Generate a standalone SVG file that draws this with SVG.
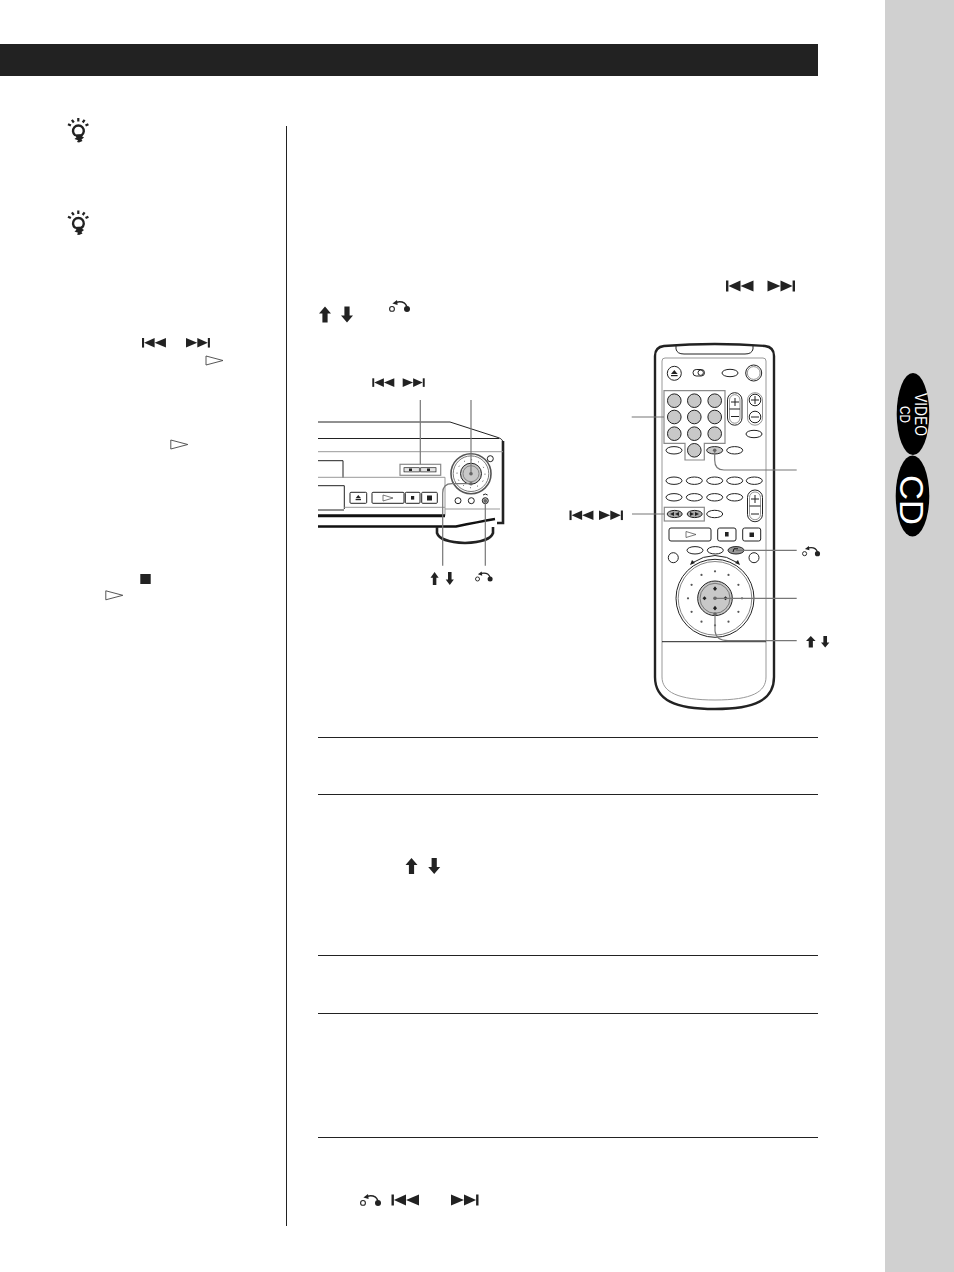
<svg xmlns="http://www.w3.org/2000/svg" width="954" height="1272" viewBox="0 0 954 1272">
<style>
.rule{stroke:#222;stroke-width:1;fill:none}
.k{fill:none;stroke:#222;stroke-width:1}
.g{fill:none;stroke:#999;stroke-width:1}
.hl{fill:none;stroke:#8a8a8a;stroke-width:1.2}
.lead{fill:none;stroke:#777;stroke-width:1.2}
.btn{fill:#fff;stroke:#222;stroke-width:1}
.gb{fill:#c8c8c8;stroke:#222;stroke-width:1}
.gd{fill:#666}
.dot{fill:#555}
.ink{fill:#222}
.lab{font-family:"Liberation Sans",Arial,sans-serif;fill:#fff;font-weight:400}
</style>
<defs>
<g id="prev"><rect x="0" y="0" width="2.4" height="11" class="ink"/><polygon points="2.4,5.5 14.5,0 14.5,11" class="ink"/><polygon points="14.5,5.5 27.5,0 27.5,11" class="ink"/></g>
<g id="next"><rect x="25.1" y="0" width="2.4" height="11" class="ink"/><polygon points="25.1,5.5 13,0 13,11" class="ink"/><polygon points="13,5.5 0,0 0,11" class="ink"/></g>
<polygon id="up" points="6,0 12,7 8.6,7 8.6,16 3.4,16 3.4,7 0,7" class="ink"/>
<polygon id="down" points="6,16 12,9 8.6,9 8.6,0 3.4,0 3.4,9 0,9" class="ink"/>
<g id="ret"><circle cx="3" cy="8.9" r="2.4" fill="#fff" stroke="#222" stroke-width="1.1"/><circle cx="18" cy="8.9" r="3" class="ink"/><path d="M17.8 6.5Q15.5 0.6 7.5 2.2" fill="none" stroke="#222" stroke-width="1.5"/><polygon points="3.4,3.4 8,0 8.6,5" class="ink"/></g>
<polygon id="play" points="0.5,0.5 17.5,5 0.5,9.5" fill="#fff" stroke="#444" stroke-width="0.9"/>
<g id="bulb"><path d="M7.2 17.2A5.4 5.4 0 1 1 13.6 17.2" fill="none" stroke="#222" stroke-width="2.4"/><polygon points="5.5,16.5 15,16 14,18.2 16,19.5 13.5,21.5 14.5,23 11,24.5 9,24 10,22.3 6.5,21 8.5,19.2" class="ink"/><g stroke="#222" stroke-width="2.2"><path d="M10.3 0V3.4M3.9 1.8L5.8 4.5M16.6 1.8L14.7 4.5M0 6.2L2.9 7.6M20.4 6.2L17.5 7.6"/></g></g>
<ellipse id="ov" rx="8" ry="3.7" class="btn"/>
<circle id="num" r="6.8" class="gb"/>
<circle id="dd" r="1.1" class="dot"/>
</defs>
<rect width="954" height="1272" fill="#fff"/>
<rect id="sidebar" x="885" y="0" width="69" height="1272" fill="#d0d0d0"/>
<rect id="header" x="0" y="44" width="818" height="32" fill="#222"/>
<line class="rule" x1="286.5" y1="126" x2="286.5" y2="1226"/>
<g id="rules">
<line class="rule" x1="318" y1="737.5" x2="818" y2="737.5"/>
<line class="rule" x1="318" y1="794.5" x2="818" y2="794.5"/>
<line class="rule" x1="318" y1="955.5" x2="818" y2="955.5"/>
<line class="rule" x1="318" y1="1013.5" x2="818" y2="1013.5"/>
<line class="rule" x1="318" y1="1137.5" x2="818" y2="1137.5"/>
</g>
<g id="tabs">
<g id="tab-video-cd"><ellipse cx="913" cy="414" rx="16.3" ry="41" fill="#000"/>
<text class="lab" font-size="16" transform="translate(915 393) rotate(90)" textLength="43" lengthAdjust="spacingAndGlyphs">VIDEO</text>
<text class="lab" font-size="15" transform="translate(899.5 406) rotate(90)" textLength="17" lengthAdjust="spacingAndGlyphs">CD</text></g>
<g id="tab-cd"><ellipse cx="912.5" cy="496" rx="16.8" ry="40.6" fill="#000"/>
<text class="lab" font-size="33" transform="translate(900 475) rotate(90)" textLength="50" lengthAdjust="spacingAndGlyphs">CD</text></g>
</g>
<g id="inline-icons">
<use href="#bulb" x="68" y="118"/><use href="#bulb" x="68" y="210.5"/>
<use href="#prev" x="726" y="280.5"/><use href="#next" x="767.5" y="280.5"/>
<use href="#up" x="319" y="306.5"/><use href="#down" x="341" y="306.5"/>
<use href="#ret" x="389" y="300"/>
<use href="#prev" transform="translate(142 338) scale(.87 .87)"/><use href="#next" transform="translate(186 338) scale(.87 .87)"/>
<use href="#play" x="205.5" y="355.5"/><use href="#play" x="170.3" y="439.5"/>
<rect x="140.3" y="574" width="10.4" height="10" class="ink"/>
<use href="#play" x="105.3" y="590.3"/>
<use href="#up" x="405.5" y="858"/><use href="#down" x="428.2" y="858"/>
<use href="#ret" x="360" y="1194"/><use href="#prev" x="391.5" y="1194.5"/><use href="#next" x="451" y="1194.5"/>
</g>
<g id="player">
<path class="k" d="M318 422H450L498 437.5Q503 439 503 443V523"/>
<path d="M503 441V523H497" fill="none" stroke="#222" stroke-width="2.6"/>
<path class="k" d="M318 438.5H499"/>
<path class="g" d="M318 451.7H503"/>
<path class="k" d="M318 460.7H343V478"/>
<path class="g" d="M318 477.3H445V515.7"/>
<path class="k" d="M318 485.7H344.3V509M344 510H318"/>
<path class="g" d="M344.3 507.3H445M445 509H500"/>
<path d="M318 515.7H445" stroke="#111" stroke-width="3" fill="none"/>
<path d="M318 526.5H456Q478 522 495 519" stroke="#111" stroke-width="2.4" fill="none"/>
<path d="M437 527V533Q440 542 465 543Q490 542 493 533V527" fill="none" stroke="#222" stroke-width="2.6"/>
<rect x="400" y="464.3" width="40.7" height="11" class="hl"/>
<rect x="404" y="467.7" width="15.3" height="4.2" fill="#e4e4e4" stroke="#222" stroke-width=".7"/>
<rect x="420.7" y="467.7" width="15.3" height="4.2" fill="#e4e4e4" stroke="#222" stroke-width=".7"/>
<path class="ink" d="M409 468.5h3v2.6h-3zM427 468.5h3v2.6h-3z"/>
<rect x="350" y="492.3" width="16.7" height="11" rx="1" class="btn"/><polygon points="358.3,495 361,498.2 355.6,498.2" class="ink"/><rect x="355.6" y="499" width="5.4" height="1.2" class="ink"/>
<rect x="372" y="492.3" width="32" height="11" rx="1" class="btn"/><polygon points="383,495 393,498 383,501" fill="#fff" stroke="#444" stroke-width=".7"/>
<rect x="405.3" y="492.3" width="14.7" height="11" rx="1" class="btn"/><rect x="411" y="496" width="3.2" height="3.6" class="ink"/>
<rect x="421.7" y="492.3" width="15.6" height="11" rx="1" class="btn"/><rect x="427" y="495.5" width="5" height="5" class="ink"/>
<circle cx="471" cy="473.7" r="20" fill="#fff" stroke="#555" stroke-width="1.6"/><circle cx="471" cy="473.7" r="17.8" fill="#fff" stroke="#777" stroke-width="1"/>
<circle cx="471" cy="473.7" r="14" fill="none" stroke="#444" stroke-width="1" stroke-dasharray="1 6.3"/>
<circle cx="471" cy="473.7" r="10.5" class="gb"/><circle cx="471" cy="473.7" r="8" fill="#c8c8c8" stroke="#666" stroke-width=".7"/>
<circle cx="490.3" cy="458.7" r="3" class="btn"/>
<circle cx="458" cy="500.7" r="3" class="btn"/><circle cx="471.3" cy="500.7" r="3" class="btn"/><circle cx="485.3" cy="500.7" r="3" class="gb"/>
<path class="k" stroke-width=".7" d="M483 495Q485.3 493 487.6 495"/>
</g>
<g id="remote">
<path d="M655 356Q655 347 664 346Q715 342 765 346Q774 347 774 356V677C774 700 755 709 715 709C675 709 655 700 655 677Z" fill="#fff" stroke="#222" stroke-width="2.4"/>
<path d="M676 345V349Q677 354 684 354H745Q752 354 753 349V345" class="k"/>
<path d="M662 677V361Q662 358 665 358H763Q766 358 766 361V677C766 692 752 700 715 700C678 700 662 692 662 677Z" class="g"/>
<path class="k" d="M662 641.7H766"/>
<circle cx="674.3" cy="373.3" r="7" class="btn"/><polygon points="674.3,370 677.6,374 671,374" class="ink"/><rect x="671" y="375" width="6.6" height="1.2" class="ink"/>
<rect x="693" y="369.5" width="11.5" height="6.5" rx="3.2" class="btn"/><circle cx="700.7" cy="372.7" r="2.7" class="btn"/>
<use href="#ov" x="730" y="373"/>
<circle cx="753.7" cy="373" r="8" class="btn"/><circle cx="753.7" cy="373" r="6.4" fill="#fff" stroke="#666" stroke-width=".7"/>
<g id="keypad"><use href="#num" x="674.3" y="400.7"/><use href="#num" x="694.3" y="400.7"/><use href="#num" x="714.7" y="400.7"/><use href="#num" x="674.3" y="417"/><use href="#num" x="694.3" y="417"/><use href="#num" x="714.7" y="417"/><use href="#num" x="674.3" y="433.7"/><use href="#num" x="694.3" y="433.7"/><use href="#num" x="714.7" y="433.7"/><use href="#num" x="694.3" y="450.3"/>
<path class="hl" d="M664 390.7H725V443.3H704.3V460H685V443.3H664Z"/></g>
<rect x="727.5" y="392.7" width="14.5" height="32.5" rx="7.2" class="btn"/><rect x="729.5" y="394.7" width="10.5" height="28.5" rx="5.2" fill="#fff" stroke="#666" stroke-width=".7"/>
<path class="k" d="M729.5 409H740M731 402H739M735 398V406M731 416.5H739"/>
<rect x="747.5" y="392.7" width="15" height="32.5" rx="7.4" fill="#fff" stroke="#777" stroke-width=".8"/>
<circle cx="755" cy="400" r="5.8" class="btn"/><circle cx="755" cy="417" r="5.8" class="btn"/>
<path class="k" d="M751 400H759M755 396V404M751 417H759"/>
<use href="#ov" x="754" y="434"/>
<use href="#ov" x="674" y="450.3"/><ellipse cx="714.7" cy="450.3" rx="8" ry="3.7" class="gb"/><use href="#ov" x="734.7" y="450.3"/>
<use href="#ov" x="674" y="480.7"/><use href="#ov" x="694.3" y="480.7"/><use href="#ov" x="714.7" y="480.7"/><use href="#ov" x="734.7" y="480.7"/><use href="#ov" x="754.3" y="480.7"/>
<use href="#ov" x="674" y="497.3"/><use href="#ov" x="694.3" y="497.3"/><use href="#ov" x="714.7" y="497.3"/><use href="#ov" x="734.7" y="497.3"/>
<rect x="747.5" y="490" width="15" height="31.7" rx="7.4" class="btn"/><rect x="749.5" y="492" width="11" height="27.7" rx="5.4" fill="#fff" stroke="#666" stroke-width=".7"/>
<path class="k" d="M749.5 506H760.5M751 499H759M755 495V503M751 514H759"/>
<ellipse cx="674.7" cy="514" rx="7.5" ry="3.6" fill="#aaa" stroke="#222"/><ellipse cx="694.7" cy="514" rx="7.5" ry="3.6" fill="#aaa" stroke="#222"/><use href="#ov" x="714.7" y="514"/>
<path d="M670 514L674 512V516ZM675 514L679 512V516ZM699 514L695 512V516ZM694 514L690 512V516Z" class="ink"/>
<rect x="664.3" y="507.3" width="40" height="13.7" class="hl"/>
<rect x="669" y="528" width="42" height="13" rx="2" class="btn"/><polygon points="686,531.5 696,534.5 686,537.5" fill="#fff" stroke="#444" stroke-width=".7"/>
<rect x="717.7" y="528" width="18.3" height="13" rx="2" class="btn"/><rect x="725" y="532" width="3.6" height="4.5" class="ink"/>
<rect x="742.7" y="528" width="18" height="13" rx="2" class="btn"/><rect x="749.5" y="532.5" width="4.5" height="4.5" class="ink"/>
<circle cx="673.3" cy="557.7" r="5" class="btn"/><circle cx="754" cy="557.7" r="5" class="btn"/>
<use href="#ov" x="695" y="550.3"/><use href="#ov" x="715.3" y="550.3"/><ellipse cx="736" cy="550.3" rx="8" ry="3.7" fill="#999" stroke="#222"/>
<path d="M733 552L734 548.8H738" fill="none" stroke="#111" stroke-width="1"/>
<g id="jog">
<path class="k" d="M692 563Q715 548 738 563"/><polygon points="690,565 692,560 695,563" class="ink"/><polygon points="740,565 738,560 735,563" class="ink"/>
<circle cx="715" cy="598.3" r="39" class="k"/><circle cx="715" cy="598.3" r="36.8" fill="#fff" stroke="#666" stroke-width=".8"/>
<use href="#dd" x="715" y="571.3"/><use href="#dd" x="728.5" y="574.9"/><use href="#dd" x="738.4" y="584.8"/><use href="#dd" x="742" y="598.3"/><use href="#dd" x="738.4" y="611.8"/><use href="#dd" x="728.5" y="621.7"/><use href="#dd" x="715" y="625.3"/><use href="#dd" x="701.5" y="621.7"/><use href="#dd" x="691.6" y="611.8"/><use href="#dd" x="688" y="598.3"/><use href="#dd" x="691.6" y="584.8"/><use href="#dd" x="701.5" y="574.9"/>
<circle cx="715" cy="598.3" r="17.3" class="gb"/><circle cx="715" cy="598.3" r="15" fill="#c8c8c8" stroke="#555" stroke-width=".7"/>
<path class="ink" d="M715 586.3l2 2.4-2 2.4-2-2.4zM715 605.8l2 2.4-2 2.4-2-2.4zM704.5 596.3l2 2-2 2-2-2zM725.5 596.3l2 2-2 2-2-2z"/>
</g>
</g>
<g id="connectors">
<path class="lead" d="M420.3 400V464.3"/>
<path class="lead" stroke-width="1.5" d="M471 400V474"/>
<path class="lead" d="M485.3 500.7V565.7"/>
<path class="lead" d="M471 483.7H452Q442.7 483.7 442.7 493V565.7"/>
<path class="lead" d="M631.7 417H664"/>
<path class="lead" d="M632 514H664.3"/>
<path class="lead" d="M714.7 450.3V460Q714.7 470 724 470H796.7"/>
<path class="lead" d="M736 550.3H796.7"/>
<path class="lead" d="M715 598.3H796.7"/>
<path class="lead" d="M715 614V631Q716 640.7 728 640.7H796.7"/>
<circle cx="471" cy="473.7" r="1.8" class="gd"/><circle cx="471" cy="483.7" r="1.8" class="gd"/><circle cx="485.3" cy="500.7" r="1.8" class="gd"/><circle cx="714.7" cy="450.3" r="1.8" class="gd"/><circle cx="715" cy="598.3" r="1.8" class="gd"/><circle cx="715" cy="614" r="1.8" class="gd"/>
</g>
<g id="leader-icons">
<use href="#prev" transform="translate(372.3 378.3) scale(.8 .78)"/><use href="#next" transform="translate(402.7 378.3) scale(.8 .78)"/>
<use href="#up" transform="translate(430.5 572) scale(.68 .82)"/><use href="#down" transform="translate(445.7 572) scale(.68 .82)"/>
<use href="#ret" transform="translate(475 571.5) scale(.84)"/>
<use href="#prev" transform="translate(569.5 510.5) scale(.87 .87)"/><use href="#next" transform="translate(599 510.5) scale(.87 .87)"/>
<use href="#ret" transform="translate(802 546) scale(.86)"/>
<use href="#up" transform="translate(806 636) scale(.8 .72)"/><use href="#down" transform="translate(821 636) scale(.7 .72)"/>
</g>
</svg>
